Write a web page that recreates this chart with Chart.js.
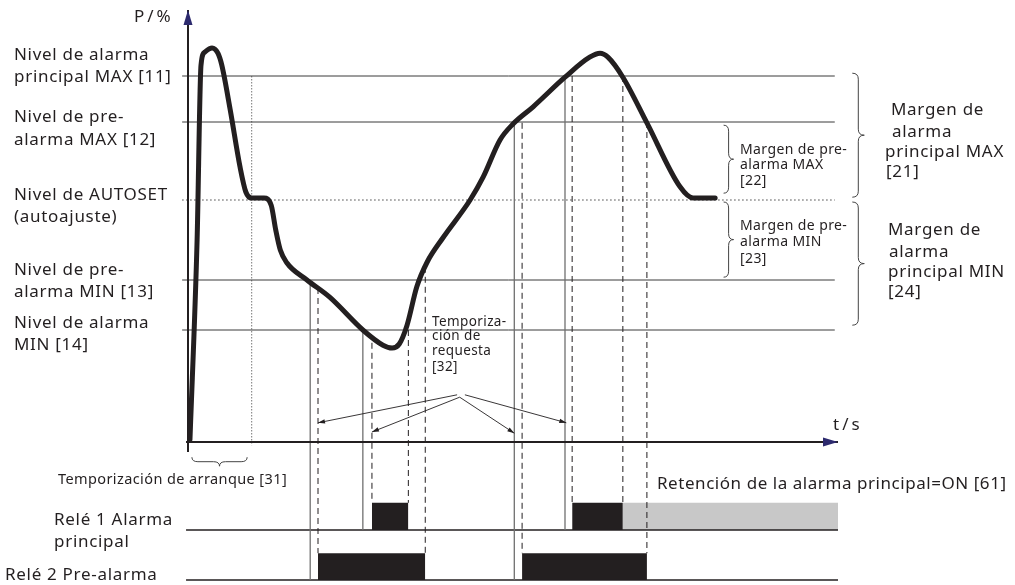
<!DOCTYPE html>
<html>
<head>
<meta charset="utf-8">
<script src="https://cdn.jsdelivr.net/npm/chart.js@4/dist/chart.umd.min.js"></script>
<style>
  html, body { margin: 0; padding: 0; background: #fff; }
  #wrap { width: 1015px; height: 585px; }
</style>
</head>
<body>
<div id="wrap"><canvas id="relayChart" width="1015" height="585"></canvas></div>
<script>
// Pressure curve, t in sketch units, P in %
const curveT = [0.3, 1.4, 2.0, 2.6, 3.7, 4.6, 5.2, 6.5, 8.0, 8.9, 9.8, 11.7, 12.8, 13.5, 14.2, 15.2, 18.3, 21.8, 26.9, 30.0,
                31.4, 32.5, 33.7, 35.2, 36.8, 39.2, 43.4, 45.4, 48.0, 50.0, 53.1, 58.0, 61.8, 63.4, 64.6, 66.9, 70.6, 75.7, 77.7, 81.1];
const curveP = [0.5, 50.5, 94.2, 97.5, 98.5, 97.2, 94.2, 83.0, 68.8, 62.5, 61.0, 61.0, 59.2, 53.0, 48.0, 44.8, 40.5, 36.2, 28.0, 24.2,
                23.5, 24.5, 29.2, 38.8, 45.0, 51.0, 60.5, 66.2, 75.5, 79.5, 83.8, 91.2, 96.2, 97.2, 96.2, 91.2, 79.8, 63.8, 61.0, 61.0];

// Levels: alarma MAX, pre-alarma MAX, AUTOSET, pre-alarma MIN, alarma MIN
const levelNames = ['alarma MAX [11]', 'pre-alarma MAX [12]', 'AUTOSET', 'pre-alarma MIN [13]', 'alarma MIN [14]'];
const levelP = [91.5, 80, 60.5, 40.5, 28];

// Level crossings (solid) and end of delay (dashed)
const switchT = [18.8, 26.9, 50.2, 58.0];
const switchLevel = [3, 4, 1, 0];
const switchRelay = [2, 1, 2, 1];
const delayT = [20.0, 28.3, 33.9, 36.5, 51.4, 59.1, 66.9, 70.6];
const delayTopP = [38.5, 24.8, 30.5, 43.8, 79.8, 91.5, 91.5, 80.0];
const delayRelay = [2, 1, 1, 2, 2, 1, 1, 2];
const startDelayT = 9.8;

// Relays
const relayBaseP = [-22, -34.5];
const relayOnP = [-15.2, -27.8];
const relay1On = [[28.3, 33.9], [59.1, 66.9]];
const relay1Hold = [66.9, 100];
const relay2On = [[20.0, 36.5], [51.4, 70.6]];

// Arrows from the "Temporización de requesta" note
const arrowFromT = [41.4, 41.8, 41.8, 42.6];
const arrowFromP = [11.8, 11.2, 11.2, 11.8];
const arrowToT = [20.0, 28.3, 50.2, 58.2];
const arrowToP = [4.8, 2.5, 2.2, 4.8];

const ink = '#231f20';
const datasets = [];

function seg(pts, opts) {
  datasets.push(Object.assign({
    data: pts.map(p => ({ x: p[0], y: p[1] })),
    showLine: true, pointRadius: 0, borderWidth: 1, borderColor: ink, fill: false
  }, opts));
}

// curve on top
seg(curveT.map((t, i) => [t, curveP[i]]), {
  borderWidth: 5, cubicInterpolationMode: 'monotone', borderCapStyle: 'round', borderJoinStyle: 'round', order: 0
});

// axes
seg([[0, -2.5], [0, 108]], { borderWidth: 2, order: 1, arrow: 'axis' });
seg([[-0.3, 0], [100, 0]], { borderWidth: 2, order: 1, arrow: 'axis' });

// level lines
levelP.forEach((p, i) => {
  seg([[-0.9, p], [99.5, p]], i === 2
    ? { borderColor: '#444', borderDash: [1.5, 2.5], order: 5 }
    : { borderColor: '#3a3a3a', order: 5 });
});

// start delay
seg([[startDelayT, levelP[0]], [startDelayT, -0.8]], { borderColor: '#777', borderDash: [1.5, 1.5], order: 5 });

// switch lines
switchT.forEach((t, i) => {
  seg([[t, levelP[switchLevel[i]]], [t, relayBaseP[switchRelay[i] - 1]]], { borderColor: '#707070', borderWidth: 1.3, order: 4 });
});

// delay lines
delayT.forEach((t, i) => {
  seg([[t, delayTopP[i]], [t, relayOnP[delayRelay[i] - 1]]], { borderDash: [6, 4], order: 3 });
});

// relay baselines
relayBaseP.forEach(p => seg([[-0.3, p], [100, p]], { borderWidth: 1.5, order: 6 }));

// relay bars
relay1On.forEach(r => seg([[r[0], relayOnP[0]], [r[1], relayOnP[0]]],
  { borderWidth: 0, fill: { value: relayBaseP[0] }, backgroundColor: ink, order: 7 }));
seg([[relay1Hold[0], relayOnP[0]], [relay1Hold[1], relayOnP[0]]],
  { borderWidth: 0, fill: { value: relayBaseP[0] }, backgroundColor: '#c8c8c8', order: 8 });
relay2On.forEach(r => seg([[r[0], relayOnP[1]], [r[1], relayOnP[1]]],
  { borderWidth: 0, fill: { value: relayBaseP[1] }, backgroundColor: ink, order: 7 }));

// arrows
arrowToT.forEach((t, i) => {
  seg([[arrowFromT[i], arrowFromP[i]], [t, arrowToP[i]]], { borderWidth: 0.9, order: 2, arrow: 'small' });
});

function braceV(ctx, x, y1, y2, d) {
  const m = (y1 + y2) / 2, h = d / 2, r = Math.min(6, (y2 - y1) / 5);
  ctx.beginPath();
  ctx.moveTo(x, y1);
  ctx.quadraticCurveTo(x + h, y1, x + h, y1 + r);
  ctx.lineTo(x + h, m - r);
  ctx.quadraticCurveTo(x + h, m, x + d, m);
  ctx.quadraticCurveTo(x + h, m, x + h, m + r);
  ctx.lineTo(x + h, y2 - r);
  ctx.quadraticCurveTo(x + h, y2, x, y2);
  ctx.stroke();
}

function braceH(ctx, x1, x2, y, d) {
  const m = (x1 + x2) / 2, h = d / 2, r = 6;
  ctx.beginPath();
  ctx.moveTo(x1, y);
  ctx.quadraticCurveTo(x1, y + h, x1 + r, y + h);
  ctx.lineTo(m - r, y + h);
  ctx.quadraticCurveTo(m, y + h, m, y + d);
  ctx.quadraticCurveTo(m, y + h, m + r, y + h);
  ctx.lineTo(x2 - r, y + h);
  ctx.quadraticCurveTo(x2, y + h, x2, y);
  ctx.stroke();
}

const big = [17, 0.7], small = [14, 0.4];
const labels = [
  // [text, x, y, font]
  ['Nivel de alarma', 14, 55, big], ['principal MAX [11]', 14, 77, big],
  ['Nivel de pre-', 14, 117, big], ['alarma MAX [12]', 14, 140, big],
  ['Nivel de AUTOSET', 14, 195, big], ['(autoajuste)', 14, 217, big],
  ['Nivel de pre-', 14, 270, big], ['alarma MIN [13]', 14, 292, big],
  ['Nivel de alarma', 14, 323, big], ['MIN [14]', 14, 345, big],
  ['Temporiza-', 432, 322, [13.5, 0.4]], ['ción de', 432, 336, [13.5, 0.4]], ['requesta', 432, 351, [13.5, 0.4]], ['[32]', 432, 367, [13.5, 0.4]],
  ['Temporización de arranque [31]', 58, 480, [14.5, 0.4]],
  ['Relé 1 Alarma', 54, 520, big], ['principal', 54, 542, big], ['Relé 2 Pre-alarma', 5, 575, big],
  ['Retención de la alarma principal=ON [61]', 657, 484, [17, 0.55]],
  ['Margen de pre-', 740, 150, small], ['alarma MAX', 740, 165, small], ['[22]', 740, 181, small],
  ['Margen de pre-', 740, 226, small], ['alarma MIN', 740, 242, small], ['[23]', 740, 259, small],
  ['Margen de', 891, 110, big], ['alarma', 892, 132, big], ['principal MAX', 885, 152, big], ['[21]', 886, 172, big],
  ['Margen de', 888, 230, big], ['alarma', 889, 252, big], ['principal MIN', 888, 272, big], ['[24]', 888, 292, big]
];

const sketchPlugin = {
  id: 'sketch',
  afterDatasetsDraw(chart) {
    const ctx = chart.ctx;
    const xs = chart.scales.x, ys = chart.scales.y;
    ctx.save();
    // arrowheads
    chart.data.datasets.forEach((ds, i) => {
      if (!ds.arrow) return;
      const pts = chart.getDatasetMeta(i).data;
      const a = pts[pts.length - 2], b = pts[pts.length - 1];
      const ang = Math.atan2(b.y - a.y, b.x - a.x);
      const len = ds.arrow === 'axis' ? 15 : 7, wid = ds.arrow === 'axis' ? 4.5 : 2.2;
      ctx.fillStyle = ds.arrow === 'axis' ? '#2d2a6e' : ink;
      ctx.beginPath();
      ctx.moveTo(b.x, b.y);
      ctx.lineTo(b.x - len * Math.cos(ang) + wid * Math.sin(ang), b.y - len * Math.sin(ang) - wid * Math.cos(ang));
      ctx.lineTo(b.x - len * Math.cos(ang) - wid * Math.sin(ang), b.y - len * Math.sin(ang) + wid * Math.cos(ang));
      ctx.closePath();
      ctx.fill();
    });
    // braces
    ctx.strokeStyle = '#444';
    ctx.lineWidth = 1;
    braceV(ctx, xs.getPixelForValue(102.2), ys.getPixelForValue(92.2), ys.getPixelForValue(61.2), 12);
    braceV(ctx, xs.getPixelForValue(102.2), ys.getPixelForValue(60.0), ys.getPixelForValue(29.2), 12);
    braceV(ctx, xs.getPixelForValue(82.4), ys.getPixelForValue(79.2), ys.getPixelForValue(62.2), 10);
    braceV(ctx, xs.getPixelForValue(82.4), ys.getPixelForValue(60.0), ys.getPixelForValue(41.2), 10);
    braceH(ctx, xs.getPixelForValue(0.6), xs.getPixelForValue(9.1), ys.getPixelForValue(-3.8), 9);
    // texts
    ctx.fillStyle = ink;
    ctx.textBaseline = 'middle';
    ctx.textAlign = 'left';
    labels.forEach(l => {
      ctx.font = l[3][0] + 'px "Noto Sans", sans-serif';
      ctx.letterSpacing = l[3][1] + 'px';
      ctx.fillText(l[0], l[1], l[2]);
    });
    ctx.font = '17px "Noto Sans", sans-serif';
    ctx.letterSpacing = '3px';
    ctx.fillText('P/%', 134, 17);
    ctx.fillText('t/s', 833, 425);
    ctx.restore();
  }
};

new Chart(document.getElementById('relayChart'), {
  type: 'scatter',
  data: { datasets: datasets },
  options: {
    responsive: false,
    animation: false,
    events: [],
    layout: { padding: 0 },
    plugins: { legend: { display: false }, tooltip: { enabled: false } },
    scales: {
      x: { type: 'linear', min: -188 / 6.5, max: 827 / 6.5, display: false },
      y: { type: 'linear', min: -143 / 4, max: 442 / 4, display: false }
    }
  },
  plugins: [sketchPlugin]
});
</script>
</body>
</html>
